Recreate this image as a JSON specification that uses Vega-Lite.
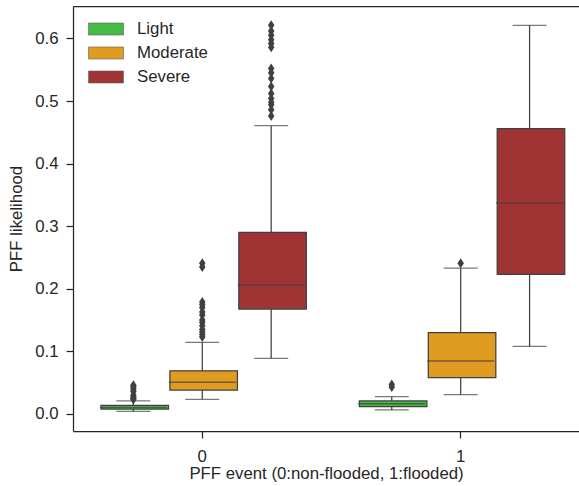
{
  "$schema": "https://vega.github.io/schema/vega-lite/v6.json",
  "width": 506,
  "height": 425,
  "autosize": {"type": "none"},
  "padding": {"left": 73, "top": 6, "right": 0, "bottom": 55},
  "background": "white",
  "config": {
    "view": {"stroke": null},
    "font": "Liberation Sans",
    "axis": {
      "labelFont": "Liberation Sans",
      "titleFont": "Liberation Sans",
      "labelFontSize": 16.8,
      "titleFontSize": 16.8,
      "titleFontWeight": "normal",
      "labelColor": "#262626",
      "titleColor": "#262626",
      "domainColor": "#262626",
      "domainWidth": 1.25,
      "tickColor": "#262626",
      "tickWidth": 1.25,
      "tickSize": 7,
      "grid": false
    },
    "legend": {
      "labelFont": "Liberation Sans",
      "labelFontSize": 16.8,
      "labelColor": "#262626",
      "padding": 0
    }
  },
  "datasets": {
    "boxes": [
      {"event": "0", "severity": "Light", "lower": 0.0043, "q1": 0.0078, "median": 0.0104, "q3": 0.0138, "upper": 0.0208},
      {"event": "0", "severity": "Moderate", "lower": 0.0235, "q1": 0.0383, "median": 0.0505, "q3": 0.069, "upper": 0.1145},
      {"event": "0", "severity": "Severe", "lower": 0.089, "q1": 0.1677, "median": 0.2055, "q3": 0.29, "upper": 0.4605},
      {"event": "1", "severity": "Light", "lower": 0.0064, "q1": 0.0117, "median": 0.0165, "q3": 0.0208, "upper": 0.0277},
      {"event": "1", "severity": "Moderate", "lower": 0.031, "q1": 0.058, "median": 0.0847, "q3": 0.13, "upper": 0.233},
      {"event": "1", "severity": "Severe", "lower": 0.108, "q1": 0.2231, "median": 0.337, "q3": 0.4558, "upper": 0.621}
    ],
    "outliers": [
      {"event": "0", "severity": "Light", "value": 0.046},
      {"event": "0", "severity": "Light", "value": 0.043},
      {"event": "0", "severity": "Light", "value": 0.04},
      {"event": "0", "severity": "Light", "value": 0.036},
      {"event": "0", "severity": "Light", "value": 0.03},
      {"event": "0", "severity": "Light", "value": 0.027},
      {"event": "0", "severity": "Light", "value": 0.025},
      {"event": "0", "severity": "Light", "value": 0.023},
      {"event": "0", "severity": "Moderate", "value": 0.241},
      {"event": "0", "severity": "Moderate", "value": 0.235},
      {"event": "0", "severity": "Moderate", "value": 0.179},
      {"event": "0", "severity": "Moderate", "value": 0.175},
      {"event": "0", "severity": "Moderate", "value": 0.17},
      {"event": "0", "severity": "Moderate", "value": 0.163},
      {"event": "0", "severity": "Moderate", "value": 0.158},
      {"event": "0", "severity": "Moderate", "value": 0.15},
      {"event": "0", "severity": "Moderate", "value": 0.146},
      {"event": "0", "severity": "Moderate", "value": 0.141},
      {"event": "0", "severity": "Moderate", "value": 0.135},
      {"event": "0", "severity": "Moderate", "value": 0.131},
      {"event": "0", "severity": "Moderate", "value": 0.127},
      {"event": "0", "severity": "Moderate", "value": 0.123},
      {"event": "0", "severity": "Severe", "value": 0.621},
      {"event": "0", "severity": "Severe", "value": 0.612},
      {"event": "0", "severity": "Severe", "value": 0.605},
      {"event": "0", "severity": "Severe", "value": 0.598},
      {"event": "0", "severity": "Severe", "value": 0.592},
      {"event": "0", "severity": "Severe", "value": 0.586},
      {"event": "0", "severity": "Severe", "value": 0.552},
      {"event": "0", "severity": "Severe", "value": 0.545},
      {"event": "0", "severity": "Severe", "value": 0.536},
      {"event": "0", "severity": "Severe", "value": 0.523},
      {"event": "0", "severity": "Severe", "value": 0.512},
      {"event": "0", "severity": "Severe", "value": 0.504},
      {"event": "0", "severity": "Severe", "value": 0.498},
      {"event": "0", "severity": "Severe", "value": 0.494},
      {"event": "0", "severity": "Severe", "value": 0.486},
      {"event": "0", "severity": "Severe", "value": 0.476},
      {"event": "1", "severity": "Light", "value": 0.047},
      {"event": "1", "severity": "Light", "value": 0.043},
      {"event": "1", "severity": "Moderate", "value": 0.2407}
    ]
  },
  "encoding": {
    "x": {
      "field": "event",
      "type": "nominal",
      "scale": {"paddingInner": 0.2, "paddingOuter": 0.0791, "align": 0.634},
      "axis": null
    },
    "xOffset": {
      "field": "severity",
      "type": "nominal",
      "scale": {"domain": ["Light", "Moderate", "Severe"], "paddingInner": 0, "paddingOuter": 0}
    }
  },
  "layer": [
    {
      "data": {"name": "boxes"},
      "mark": {"type": "rule", "color": "#404040", "strokeWidth": 1.25},
      "encoding": {
        "x": {
          "field": "event",
          "type": "nominal",
          "axis": {"orient": "bottom", "labelAngle": 0, "labelPadding": 10, "titlePadding": 1, "title": "PFF event (0:non-flooded, 1:flooded)"}
        },
        "y": {
          "field": "lower",
          "type": "quantitative",
          "scale": {"domain": [-0.0272, 0.6518], "nice": false, "zero": false},
          "axis": {"values": [0, 0.1, 0.2, 0.3, 0.4, 0.5, 0.6], "format": ".1f", "labelPadding": 8, "titlePadding": 9, "title": "PFF likelihood"}
        },
        "y2": {"field": "upper"}
      }
    },
    {
      "data": {"name": "boxes"},
      "mark": {"type": "tick", "color": "#404040", "thickness": 1.25, "size": 34},
      "encoding": {"y": {"field": "lower", "type": "quantitative"}}
    },
    {
      "data": {"name": "boxes"},
      "mark": {"type": "tick", "color": "#404040", "thickness": 1.25, "size": 34},
      "encoding": {"y": {"field": "upper", "type": "quantitative"}}
    },
    {
      "data": {"name": "boxes"},
      "mark": {"type": "bar", "width": {"band": 0.98}, "stroke": "#404040", "strokeWidth": 1.25},
      "encoding": {
        "y": {"field": "q1", "type": "quantitative"},
        "y2": {"field": "q3"},
        "color": {
          "field": "severity",
          "type": "nominal",
          "scale": {"domain": ["Light", "Moderate", "Severe"], "range": ["#45ba45", "#df9c20", "#a03434"]},
          "legend": {
            "title": null,
            "orient": "none",
            "legendX": 15,
            "legendY": 13,
            "symbolType": "M-1,-0.343L1,-0.343L1,0.343L-1,0.343Z",
            "symbolSize": 1225,
            "symbolStrokeColor": "#606060",
            "symbolStrokeWidth": 0.6,
            "symbolOpacity": 1,
            "labelOffset": 13,
            "clipHeight": 20,
            "rowPadding": 4
          }
        }
      }
    },
    {
      "data": {"name": "boxes"},
      "mark": {"type": "tick", "color": "#404040", "thickness": 1.5, "size": 67},
      "encoding": {"y": {"field": "median", "type": "quantitative"}}
    },
    {
      "data": {"name": "outliers"},
      "mark": {"type": "point", "shape": "M0,-1L0.65,0L0,1L-0.65,0Z", "filled": true, "color": "#404040", "opacity": 1, "size": 100},
      "encoding": {
        "y": {"field": "value", "type": "quantitative"},
        "x": {
          "field": "event",
          "type": "nominal",
          "axis": {"orient": "top", "labels": false, "ticks": false, "title": null, "domain": true}
        }
      }
    }
  ],
  "resolve": {"axis": {"x": "independent"}}
}
